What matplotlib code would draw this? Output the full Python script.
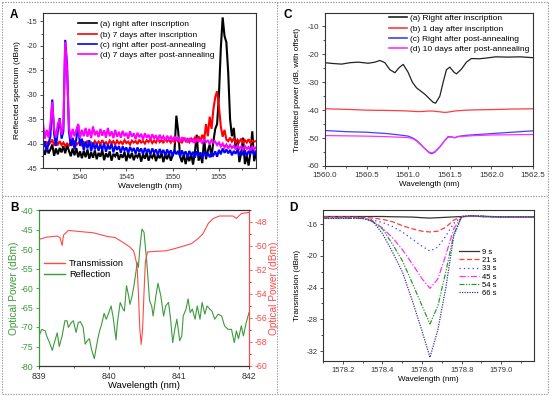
import numpy as np
import matplotlib
matplotlib.use("Agg")
import matplotlib.pyplot as plt
from matplotlib.lines import Line2D
from matplotlib.ticker import MultipleLocator, FormatStrFormatter

plt.rcParams['font.family'] = ['Liberation Sans', 'DejaVu Sans']
plt.rcParams['axes.unicode_minus'] = False

W, H = 550, 396

# ---------------- Panel A data ----------------
wl_a = np.linspace(1536.0, 1559.0, 116)
a_black = [
    -41.0, -42.3, -40.8, -42.0, -41.2, -40.2, -42.5, -41.0, -42.2, -40.9,
    -41.8, -40.5, -42.0, -40.3, -41.5, -42.6, -41.0, -42.4, -40.9, -42.8,
    -41.6, -43.0, -41.5, -42.8, -41.2, -43.1, -41.8, -42.9, -41.4, -43.2,
    -41.9, -42.7, -41.3, -43.4, -42.0, -42.8, -41.6, -43.5, -42.1, -42.6,
    -41.8, -43.3, -42.2, -42.9, -41.7, -43.6, -42.0, -43.0, -41.9, -43.4,
    -42.3, -42.8, -41.9, -43.7, -42.2, -43.1, -41.8, -43.5, -42.4, -42.9,
    -42.0, -43.6, -42.3, -43.0, -41.9, -43.8, -42.2, -43.2, -42.0, -43.5,
    -42.4, -41.5, -34.3, -37.5, -42.6, -43.8, -42.1, -44.2, -42.5, -43.6,
    -42.0, -44.3, -41.8, -38.2, -43.5, -42.2, -44.0, -38.6, -43.2, -41.5,
    -40.2, -42.8, -39.5, -37.0, -36.0, -30.0, -20.5, -14.2, -18.0, -19.3,
    -25.5, -35.0, -38.5, -36.8, -41.0, -39.5, -43.8, -42.0, -38.8, -44.2,
    -42.5, -44.5, -41.8, -37.5, -43.6, -42.0]
a_red = [
    -40.0, -40.6, -39.6, -40.3, -39.8, -39.2, -40.4, -39.7, -40.2, -39.5,
    -40.3, -39.8, -40.5, -40.0, -40.4, -39.7, -40.2, -39.6, -40.3, -39.9,
    -39.5, -40.3, -39.7, -40.2, -39.4, -40.1, -39.8, -40.4, -39.5, -40.0,
    -39.6, -40.2, -39.3, -40.0, -39.7, -40.3, -39.4, -39.9, -39.5, -40.2,
    -39.4, -40.0, -39.6, -40.1, -39.3, -39.9, -39.6, -40.2, -39.4, -39.8,
    -39.5, -40.1, -39.2, -39.8, -39.5, -40.0, -39.3, -39.7, -39.1, -39.9,
    -39.4, -39.8, -39.0, -39.7, -39.3, -39.9, -38.9, -39.6, -39.2, -39.8,
    -39.1, -39.7, -39.0, -39.6, -39.3, -39.9, -38.8, -39.5, -39.1, -39.7,
    -39.0, -39.6, -38.8, -39.4, -38.5, -39.5, -38.2, -39.3, -36.0, -38.5,
    -34.5, -37.0, -33.0, -30.5, -29.3, -32.5, -36.5, -38.6, -37.2, -39.2,
    -39.5, -38.8, -39.6, -39.0, -39.8, -39.2, -39.7, -39.0, -39.9, -39.3,
    -39.8, -39.1, -39.9, -39.4, -39.6, -39.5]
a_blue = [
    -41.0, -39.5, -41.5, -40.0, -38.5, -31.0, -38.0, -40.5, -37.5, -34.8,
    -39.0, -37.5, -18.8, -24.0, -37.5, -40.5, -38.8, -41.2, -39.0, -36.2,
    -40.5, -39.0, -41.4, -39.6, -41.0, -39.3, -41.6, -39.8, -41.2, -40.0,
    -41.5, -40.2, -41.3, -39.9, -41.7, -40.3, -41.2, -40.0, -41.8, -40.4,
    -41.3, -40.5, -41.9, -40.6, -41.4, -40.8, -42.0, -40.7, -41.6, -40.9,
    -42.1, -40.8, -41.7, -41.0, -42.2, -40.9, -41.8, -41.1, -42.3, -41.0,
    -41.9, -41.2, -42.4, -41.1, -42.0, -41.3, -42.5, -41.2, -42.1, -41.4,
    -42.6, -41.3, -42.2, -41.5, -42.7, -41.4, -42.3, -41.6, -42.8, -41.5,
    -42.4, -41.7, -42.9, -41.6, -42.5, -41.8, -43.0, -41.7, -42.6, -41.9,
    -42.8, -41.8, -42.4, -41.6, -42.7, -41.3, -42.2, -41.0, -41.9, -41.2,
    -42.0, -41.3, -42.4, -41.5, -42.1, -41.2, -42.5, -41.6, -42.2, -41.4,
    -42.6, -41.5, -42.0, -41.3, -42.4, -41.6]
a_magenta = [
    -35.8, -39.0, -37.2, -38.8, -36.0, -31.5, -37.0, -38.8, -36.0, -35.0,
    -38.2, -36.5, -19.2, -25.0, -36.5, -39.0, -37.0, -38.5, -37.2, -36.0,
    -38.8, -37.2, -38.5, -36.8, -38.6, -37.0, -38.9, -36.5, -38.3, -37.4,
    -38.7, -37.0, -38.4, -37.3, -38.8, -36.8, -38.5, -37.5, -38.9, -37.2,
    -38.6, -37.6, -38.8, -37.4, -38.5, -37.8, -39.0, -37.5, -38.6, -37.9,
    -39.1, -37.8, -38.7, -38.0, -39.2, -37.9, -38.8, -38.2, -39.3, -38.1,
    -38.9, -38.3, -39.4, -38.2, -39.0, -38.5, -39.5, -38.4, -39.1, -38.6,
    -39.6, -38.5, -39.2, -38.8, -39.7, -38.7, -39.3, -39.0, -39.8, -38.9,
    -39.5, -39.1, -39.9, -39.0, -39.6, -39.3, -40.0, -39.2, -39.7, -39.4,
    -40.1, -39.3, -39.8, -39.6, -40.3, -39.8, -40.6, -40.0, -40.8, -40.2,
    -41.0, -40.3, -40.9, -40.5, -41.2, -40.4, -41.0, -40.6, -41.3, -40.5,
    -41.1, -40.7, -41.4, -40.6, -41.2, -40.8]
labels_a = ['(a) right after inscription', '(b) 7 days after inscription',
            '(c) right after post-annealing', '(d) 7 days after post-annealing']

# ---------------- Panel C data ----------------
wl_c_a = [1560.0, 1560.1, 1560.2, 1560.3, 1560.4, 1560.52, 1560.6, 1560.66, 1560.72,
          1560.78, 1560.84, 1560.89, 1560.94, 1561.0, 1561.05, 1561.1, 1561.2, 1561.3,
          1561.33, 1561.38, 1561.42, 1561.46, 1561.5, 1561.55, 1561.58, 1561.64,
          1561.7, 1561.76, 1561.85, 1561.95, 1562.05, 1562.2, 1562.35, 1562.5]
c_black = [-23.0, -23.3, -23.5, -23.0, -22.8, -23.2, -22.8, -22.2, -23.0,
           -25.5, -26.6, -24.8, -23.6, -26.5, -30.0, -32.0, -34.3, -37.2,
           -37.5, -35.0, -30.0, -25.5, -24.6, -26.4, -27.0, -25.3,
           -22.8, -21.5, -21.6, -21.3, -20.9, -21.0, -20.9, -21.2]
wl_c = [1560.0, 1560.25, 1560.5, 1560.75, 1560.9, 1561.0, 1561.05, 1561.1, 1561.15, 1561.2,
        1561.25, 1561.28, 1561.32, 1561.38, 1561.44, 1561.48, 1561.52, 1561.56, 1561.6,
        1561.7, 1561.8, 1562.0, 1562.25, 1562.5]
c_red = [-39.5, -39.7, -40.0, -40.1, -40.2, -40.3, -40.4, -40.5, -40.5, -40.4,
         -40.3, -40.3, -40.4, -40.6, -40.8, -40.7, -40.5, -40.3, -40.2,
         -40.0, -39.9, -39.8, -39.6, -39.5]
c_blue = [-47.3, -47.7, -47.9, -48.4, -48.9, -49.3, -49.9, -50.8, -52.2, -53.8,
          -55.2, -55.6, -55.1, -53.2, -50.8, -49.5, -49.6, -49.9, -49.4,
          -49.0, -48.8, -48.4, -47.9, -47.4]
c_magenta = [-49.1, -49.2, -49.3, -49.5, -49.7, -49.8, -50.2, -51.0, -52.4, -53.8,
             -55.0, -55.3, -54.9, -53.1, -50.9, -49.7, -49.6, -49.8, -49.5,
             -49.3, -49.1, -48.9, -48.8, -48.7]
labels_c = ['(a) Right after inscription', '(b) 1 day after inscription',
            '(c) Right after post-annealing', '(d) 10 days after post-annealing']

# ---------------- Panel B data ----------------
wl_b_refl = [839.0, 839.04, 839.09, 839.11, 839.15, 839.19, 839.22, 839.26, 839.29, 839.33,
             839.37, 839.4, 839.42, 839.46, 839.49, 839.53, 839.56, 839.59, 839.63, 839.66,
             839.69, 839.72, 839.75, 839.79, 839.83, 839.86, 839.9, 839.93, 839.96, 839.99,
             840.03, 840.06, 840.1, 840.12, 840.16, 840.2, 840.22, 840.25, 840.28, 840.3,
             840.33, 840.36, 840.39, 840.4, 840.42, 840.44, 840.47, 840.5, 840.54, 840.58,
             840.61, 840.63, 840.67, 840.7, 840.74, 840.78, 840.81, 840.85, 840.88, 840.91,
             840.94, 840.97, 841.01, 841.04, 841.06, 841.1, 841.13, 841.16, 841.19, 841.23,
             841.26, 841.3, 841.33, 841.37, 841.4, 841.44, 841.47, 841.51, 841.56, 841.61,
             841.65, 841.7, 841.75, 841.79, 841.82, 841.85, 841.89, 841.92, 841.96, 842.0]
reflection = [-72.3, -70.6, -71.0, -72.3, -74.0, -76.0, -74.0, -71.5, -75.0, -72.3,
              -68.4, -68.4, -70.1, -68.9, -68.4, -71.4, -68.9, -68.6, -70.0, -74.4,
              -73.5, -73.0, -75.7, -78.1, -74.0, -71.4, -68.9, -66.5, -68.0, -66.7,
              -64.6, -67.6, -73.3, -68.9, -63.7, -65.4, -65.9, -59.4, -62.0, -64.2,
              -62.0, -59.0, -55.2, -53.4, -54.7, -50.0, -44.9, -45.7, -53.4, -63.3,
              -64.6, -67.2, -62.0, -58.8, -62.0, -67.2, -64.6, -63.7, -68.0, -74.0,
              -70.6, -68.0, -73.5, -72.3, -67.2, -65.4, -62.8, -66.3, -65.4, -68.0,
              -64.6, -68.0, -63.7, -66.7, -64.6, -65.4, -65.9, -68.0, -66.7, -67.2,
              -69.7, -70.6, -70.6, -74.0, -71.0, -73.0, -69.7, -72.3, -68.9, -66.3]
wl_b_trans = [839.0, 839.11, 839.26, 839.3, 839.33, 839.35, 839.42, 839.59, 839.78, 839.97,
              840.09, 840.2, 840.3, 840.35, 840.37, 840.4, 840.42, 840.44, 840.46, 840.48,
              840.5, 840.52, 840.55, 840.63, 840.82, 841.01, 841.18, 841.27, 841.34, 841.42,
              841.49, 841.58, 841.77, 841.82, 841.89, 842.0]
transmission = [-49.45, -49.26, -49.17, -49.3, -49.95, -49.1, -48.7, -48.8, -48.9, -49.2,
                -49.3, -49.7, -50.1, -50.4, -50.8, -51.6, -53.9, -56.9, -58.2, -56.9,
                -53.9, -51.3, -50.5, -50.46, -50.4, -50.1, -49.8, -49.4, -49.0, -48.1,
                -47.7, -47.5, -47.5, -47.7, -47.3, -47.2]

# ---------------- Panel D data ----------------
wl_d = [1578.10, 1578.20, 1578.30, 1578.35, 1578.40, 1578.45, 1578.50, 1578.55, 1578.60,
        1578.64, 1578.68, 1578.72, 1578.76, 1578.80, 1578.85, 1578.90, 1579.00, 1579.10, 1579.165]
d_9s = [-15.05, -15.05, -15.05, -15.05, -15.05, -15.08, -15.1, -15.12, -15.2,
        -15.25, -15.2, -15.15, -15.1, -15.05, -15.0, -15.05, -15.1, -15.1, -15.1]
d_21s = [-15.1, -15.1, -15.15, -15.25, -15.4, -15.7, -16.2, -16.6, -16.9,
         -17.0, -16.9, -16.4, -15.5, -15.1, -15.0, -15.05, -15.1, -15.1, -15.1]
d_33s = [-15.2, -15.2, -15.25, -15.5, -15.8, -16.3, -17.0, -17.9, -18.8,
         -19.4, -18.9, -17.5, -15.9, -15.1, -15.0, -15.05, -15.1, -15.1, -15.1]
d_45s = [-15.2, -15.2, -15.3, -15.6, -16.5, -17.7, -19.2, -21.0, -22.9,
         -24.1, -22.9, -19.9, -16.6, -15.1, -15.0, -15.05, -15.1, -15.1, -15.1]
d_54s = [-15.25, -15.25, -15.3, -15.7, -16.6, -18.5, -20.6, -23.4, -26.3,
         -28.6, -26.3, -22.0, -17.3, -15.05, -14.95, -15.0, -15.1, -15.1, -15.1]
d_66s = [-15.3, -15.3, -15.25, -15.6, -17.2, -19.5, -22.0, -25.6, -29.5,
         -32.8, -29.3, -24.0, -17.5, -15.05, -14.95, -15.0, -15.1, -15.1, -15.1]
labels_d = ['9 s', '21 s', '33 s', '45 s', '54 s', '66 s']


def ax_px(left, top, right, bottom):
    return fig.add_axes([left / W, 1 - bottom / H, (right - left) / W, (bottom - top) / H])


def style(ax, fs, color='#333333'):
    ax.tick_params(which='both', direction='out', labelsize=fs, colors='#333333', width=0.6, pad=1.5)
    ax.tick_params(which='major', length=2.5)
    ax.tick_params(which='minor', length=1.5)
    for s in ax.spines.values():
        s.set_linewidth(0.8)
        s.set_color(color)


fig = plt.figure(figsize=(W / 100, H / 100), dpi=100)
fig.patch.set_facecolor('white')

# dotted frames
fr = dict(color='#9a9a9a', lw=0.8, linestyle=(0, (1.2, 1.2)), transform=fig.transFigure)
for (x0, y0, x1, y1) in [(2, 2, 548, 2), (2, 394, 548, 394), (2, 2, 2, 394), (548, 2, 548, 394),
                         (277, 2, 277, 394), (2, 196, 548, 196)]:
    fig.add_artist(Line2D([x0 / W, x1 / W], [1 - y0 / H, 1 - y1 / H], **fr))

# ---------------- Panel A ----------------
axA = ax_px(43, 13, 256, 168)
for y, c in zip([a_black, a_red, a_blue, a_magenta], ['#000000', '#ff0000', '#0000ff', '#ff00ff']):
    axA.plot(wl_a, y, color=c, lw=1.5, solid_joinstyle='miter')
axA.set_xlim(1536, 1559)
axA.set_ylim(-45, -13.3)
axA.xaxis.set_major_locator(MultipleLocator(5))
axA.xaxis.set_minor_locator(MultipleLocator(2.5))
axA.yaxis.set_major_locator(MultipleLocator(5))
axA.yaxis.set_minor_locator(MultipleLocator(2.5))
style(axA, 5.3)
axA.set_xlabel('Wavelength (nm)', fontsize=6, labelpad=1.5)
axA.set_ylabel('Reflected spectrum (dBm)', fontsize=6, labelpad=4)
hA = [Line2D([], [], color=c, lw=1.2) for c in ['#000000', '#ff0000', '#0000ff', '#ff00ff']]
fig.legend(hA, labels_a, loc='upper left', bbox_to_anchor=(78 / W, 1 - 20.5 / H), frameon=False,
           fontsize=6, handlelength=2.3, handletextpad=0.3, labelspacing=0.3, borderpad=0, borderaxespad=0)

# ---------------- Panel C ----------------
axC = ax_px(325, 13, 533, 166)
axC.plot(wl_c_a, c_black, color='#222222', lw=0.9)
axC.plot(wl_c, c_red, color='#ff3b3b', lw=0.9)
axC.plot(wl_c, c_blue, color='#4040ff', lw=0.9)
axC.plot(wl_c, c_magenta, color='#ff30ff', lw=0.9)
axC.set_xlim(1560, 1562.5)
axC.set_ylim(-60, -5.2)
axC.xaxis.set_major_locator(MultipleLocator(0.5))
axC.xaxis.set_minor_locator(MultipleLocator(0.25))
axC.xaxis.set_major_formatter(FormatStrFormatter('%.1f'))
axC.yaxis.set_major_locator(MultipleLocator(10))
axC.yaxis.set_minor_locator(MultipleLocator(5))
style(axC, 5.8)
axC.set_xlabel('Wavelength (nm)', fontsize=5.8, labelpad=1.5)
axC.set_ylabel('Transmitted power (dB, with offset)', fontsize=5.8, labelpad=5)
hC = [Line2D([], [], color=c, lw=1.2) for c in ['#222222', '#ff3b3b', '#4040ff', '#ff30ff']]
fig.legend(hC, labels_c, loc='upper left', bbox_to_anchor=(389 / W, 1 - 14.5 / H), frameon=False,
           fontsize=6, handlelength=2.2, handletextpad=0.3, labelspacing=0.3, borderpad=0, borderaxespad=0)

# ---------------- Panel B ----------------
green = '#3c9a3c'
redB = '#ff4a4a'
axB = ax_px(39, 210, 249, 366)
axB2 = axB.twinx()
axB.plot(wl_b_refl, reflection, color=green, lw=0.8)
axB2.plot(wl_b_trans, transmission, color=redB, lw=0.8)
axB.set_xlim(839, 842)
axB.set_ylim(-80, -40)
axB2.set_ylim(-60, -47)
axB.xaxis.set_major_locator(MultipleLocator(1))
axB.xaxis.set_minor_locator(MultipleLocator(0.5))
axB.yaxis.set_major_locator(MultipleLocator(5))
axB2.yaxis.set_major_locator(MultipleLocator(2))
axB2.yaxis.set_minor_locator(MultipleLocator(1))
style(axB, 6.3)
style(axB2, 6.3)
axB.tick_params(axis='y', colors=green)
axB2.tick_params(axis='y', colors=redB)
axB.spines['left'].set_color(green)
axB2.spines['left'].set_color(green)
axB2.spines['right'].set_color(redB)
axB.spines['right'].set_color(redB)
axB.set_xlabel('Wavelength (nm)', fontsize=6.8, labelpad=0.5)
axB.set_ylabel('Optical Power (dBm)', fontsize=7.3, color=green, labelpad=1)
axB2.set_ylabel('Optical Power (dBm)', fontsize=7.3, color=redB, labelpad=1)
hB = [Line2D([], [], color=redB, lw=1.0), Line2D([], [], color=green, lw=1.0)]
fig.legend(hB, ['Transmission', 'Reflection'], loc='upper left', bbox_to_anchor=(44 / W, 1 - 259.5 / H),
           frameon=False, fontsize=6.7, handlelength=2.3, handletextpad=0.4, labelspacing=0.15,
           borderpad=0, borderaxespad=0)

# ---------------- Panel D ----------------
axD = ax_px(323, 210, 534, 361)
styles_d = [('#333333', '-'), ('#ff3b3b', (0, (4, 2))), ('#3a3aff', (0, (1, 2.5))),
            ('#ff30ff', (0, (5, 1.5, 1, 1.5))), ('#2e9a2e', (0, (4, 1.2, 1, 1.2, 1, 1.2))),
            ('#34349a', (0, (1, 1)))]
hD = []
for y, (c, ls), lab in zip([d_9s, d_21s, d_33s, d_45s, d_54s, d_66s], styles_d, labels_d):
    ln, = axD.plot(wl_d, y, color=c, ls=ls, lw=0.9, label=lab)
    hD.append(ln)
axD.set_xlim(1578.1, 1579.165)
axD.set_ylim(-33.26, -14.23)
axD.xaxis.set_major_locator(MultipleLocator(0.2))
axD.xaxis.set_minor_locator(MultipleLocator(0.1))
axD.xaxis.set_major_formatter(FormatStrFormatter('%.1f'))
axD.yaxis.set_major_locator(MultipleLocator(4))
axD.yaxis.set_minor_locator(MultipleLocator(2))
style(axD, 5.5)
axD.set_xlabel('Wavelength (nm)', fontsize=5.8, labelpad=1.5)
axD.set_ylabel('Transmission (dBm)', fontsize=5.8, labelpad=4)
fig.legend(hD, labels_d, loc='upper left', bbox_to_anchor=(459 / W, 1 - 248.5 / H), frameon=False,
           fontsize=5.5, handlelength=2.6, handletextpad=0.4, labelspacing=0.12,
           borderpad=0, borderaxespad=0)

# panel letters
for t, x, y in [('A', 10, 15), ('C', 283, 15), ('B', 10, 208), ('D', 289, 208)]:
    fig.text(x / W, 1 - y / H, t, fontsize=8.5, fontweight='bold', ha='left', va='center')

fig.savefig('out.png', dpi=100)
